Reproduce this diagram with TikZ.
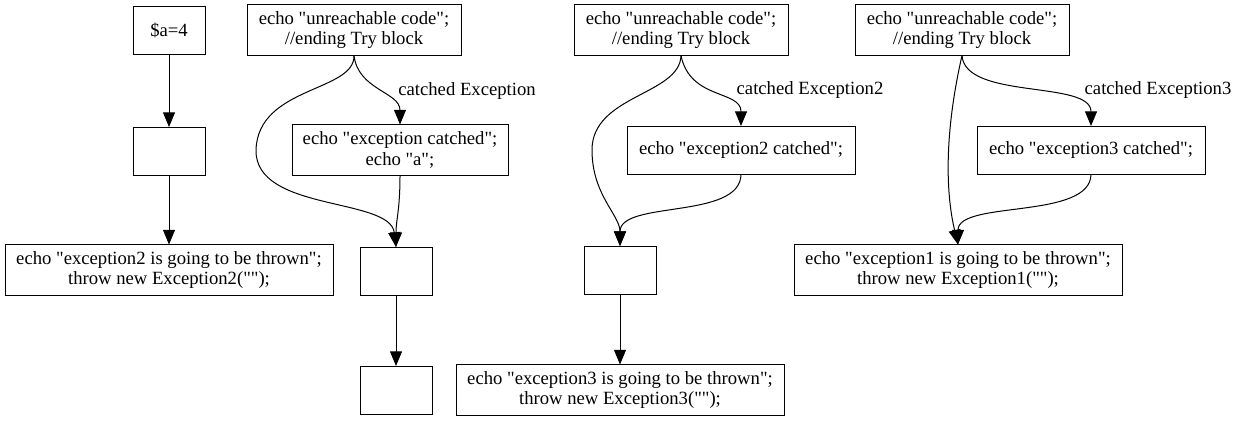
\documentclass[tikz,border=0pt]{standalone}
\usepackage{fontspec}
\setmainfont{Liberation Serif}[Ligatures=TeXOff]
\usetikzlibrary{arrows.meta}
\begin{document}
\begin{tikzpicture}[x=0.75pt,y=-0.75pt,
  box/.style={draw,line width=0.75pt,inner sep=0pt,outer sep=0pt,align=center,
    font=\fontsize{14}{15.5}\selectfont},
  emptybox/.style={box,minimum width=54pt,minimum height=36pt},
  lbl/.style={font=\fontsize{14}{15.5}\selectfont,inner sep=0pt},
  arr/.style={line width=0.75pt,-{Triangle[length=11pt,width=9pt]}}]
\useasboundingbox (0,0) rectangle (1248,421);

% cluster 1
\node[box,minimum width=54pt,minimum height=36pt] (n1) at (169,30) {\$a=4};
\node[emptybox] (n2) at (169,151) {};
\node[box,minimum width=246pt,minimum height=38.25pt] (n3) at (169,270)
  {echo "exception2 is going to be thrown";\\throw new Exception2("");};
\draw[arr] (n1) -- (n2);
\draw[arr] (n2) -- (n3);

% cluster 2
\node[box,minimum width=160.5pt,minimum height=38.25pt] (u1) at (354,30)
  {echo "unreachable code";\\//ending Try block};
\node[box,minimum width=162pt,minimum height=38.25pt] (c1) at (400,150)
  {echo "exception catched";\\echo "a";};
\node[emptybox] (e1) at (396,271) {};
\node[emptybox] (e2) at (396,390) {};
\node[lbl] (l1) at (467,91) {catched Exception};
\draw[arr] (u1.south) .. controls (355,92) and (258,86) .. (256,150)
  .. controls (255,212) and (390,197) .. (e1.north);
\draw[arr] (u1.south) .. controls (358,90) and (400,92) .. (c1.north);
\draw[arr] (c1.south) .. controls (400,210) and (396,220) .. (e1.north);
\draw[arr] (e1) -- (e2);

% cluster 3
\node[box,minimum width=160.5pt,minimum height=38.25pt] (u2) at (681,30)
  {echo "unreachable code";\\//ending Try block};
\node[box,minimum width=171pt,minimum height=36pt] (c2) at (741,150)
  {echo "exception2 catched";};
\node[emptybox] (e3) at (620,270) {};
\node[box,minimum width=246pt,minimum height=38.25pt] (n4) at (620,390)
  {echo "exception3 is going to be thrown";\\throw new Exception3("");};
\node[lbl] (l2) at (810,90) {catched Exception2};
\draw[arr] (u2.south) .. controls (680,95) and (592,95) .. (592,150)
  .. controls (592,195) and (620,215) .. (e3.north);
\draw[arr] (u2.south) .. controls (690,100) and (741,90) .. (c2.north);
\draw[arr] (c2.south) .. controls (741,220) and (620,200) .. (e3.north);
\draw[arr] (e3) -- (n4);

% cluster 4
\node[box,minimum width=160.5pt,minimum height=38.25pt] (u3) at (962,30)
  {echo "unreachable code";\\//ending Try block};
\node[box,minimum width=171pt,minimum height=36pt] (c3) at (1091,150)
  {echo "exception3 catched";};
\node[box,minimum width=246pt,minimum height=38.25pt] (n5) at (958,270)
  {echo "exception1 is going to be thrown";\\throw new Exception1("");};
\node[lbl] (l3) at (1158,90) {catched Exception3};
\draw[arr] (u3.south) .. controls (945,130) and (945,190) .. (n5.north);
\draw[arr] (u3.south) .. controls (965,100) and (1091,80) .. (c3.north);
\draw[arr] (c3.south) .. controls (1091,220) and (958,200) .. (n5.north);
\end{tikzpicture}
\end{document}
